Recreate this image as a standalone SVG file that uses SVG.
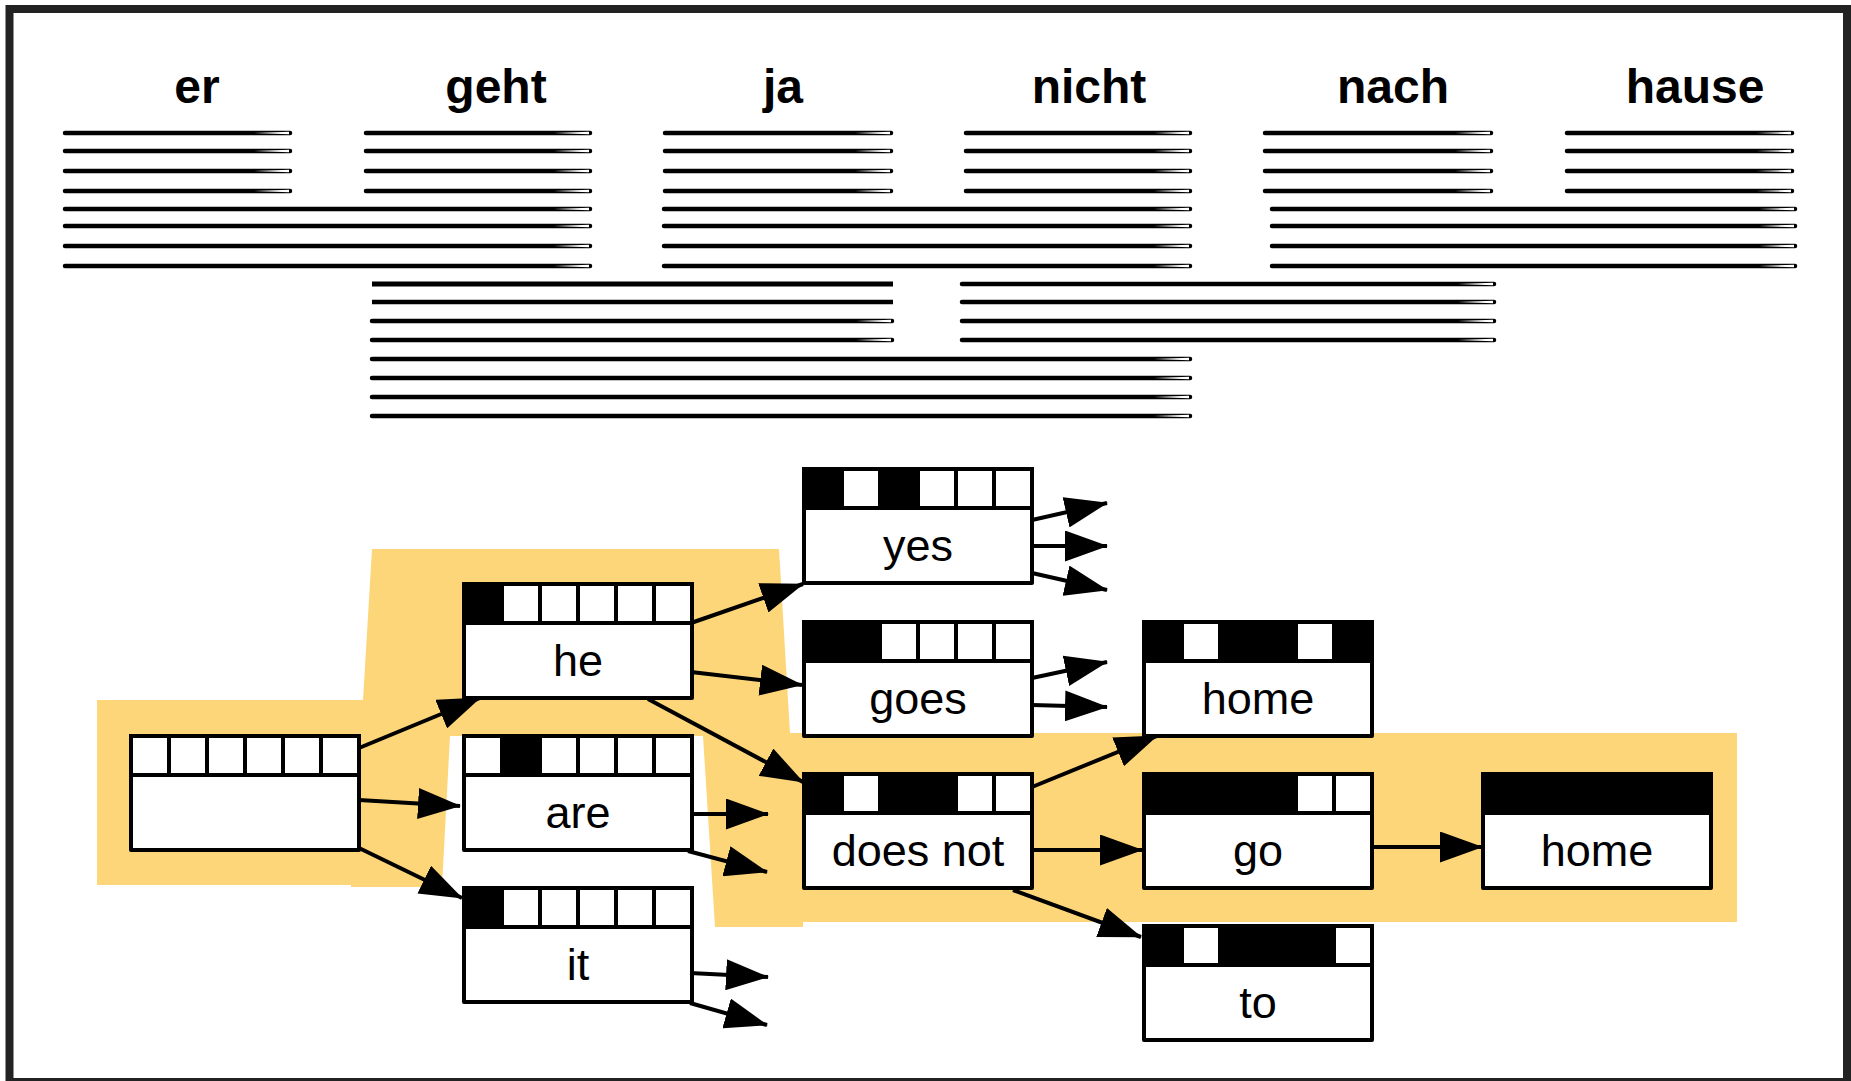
<svg xmlns="http://www.w3.org/2000/svg" width="1851" height="1081" viewBox="0 0 1851 1081">
<style>
.frame{fill:#fff;stroke:#222;stroke-width:8}
.word{font-family:"Liberation Sans",Arial,sans-serif;font-weight:bold;font-size:48px;text-anchor:middle;fill:#000}
.bar{fill:none;stroke:#000;stroke-width:4.5;stroke-linecap:round}
.bartip{marker-end:url(#tip)}
.hl{fill:#fdd679;stroke:none}
.box{fill:#fff;stroke:#000;stroke-width:4;stroke-linejoin:round}
.on{fill:#000;stroke:#000;stroke-width:4}
.off{fill:#fff;stroke:#000;stroke-width:4}
.lbl{font-family:"Liberation Sans",Arial,sans-serif;font-size:45px;text-anchor:middle;fill:#000}
.edge{fill:none;stroke:#000;stroke-width:4;marker-end:url(#arrow)}
</style>
<defs>
<marker id="arrow" markerUnits="userSpaceOnUse" markerWidth="43" markerHeight="31" viewBox="0 0 43 31" refX="42" refY="15.5" orient="auto">
<path d="M0,0 L43,15.5 L0,31 Z" fill="#000"/>
</marker>
<marker id="tip" markerUnits="userSpaceOnUse" markerWidth="40" markerHeight="8" viewBox="-40 -4 40 8" refX="0" refY="0" orient="auto" overflow="visible">
<path d="M-36,0 L-1,-1.2 L-1,1.2 Z" fill="#fff"/>
</marker>
</defs>
<rect class="frame" x="9.5" y="9" width="1837.5" height="1073"/>

<g id="source-words">
<text class="word" x="197" y="103">er</text>
<text class="word" x="496" y="103">geht</text>
<text class="word" x="783" y="103">ja</text>
<text class="word" x="1089" y="103">nicht</text>
<text class="word" x="1393" y="103">nach</text>
<text class="word" x="1695" y="103">hause</text>
</g>

<g id="phrase-bars">
<path class="bar bartip" d="M65,133H290"/><path class="bar bartip" d="M65,151H290"/><path class="bar bartip" d="M65,171H290"/><path class="bar bartip" d="M65,191H290"/>
<path class="bar bartip" d="M366,133H590"/><path class="bar bartip" d="M366,151H590"/><path class="bar bartip" d="M366,171H590"/><path class="bar bartip" d="M366,191H590"/>
<path class="bar bartip" d="M665,133H891"/><path class="bar bartip" d="M665,151H891"/><path class="bar bartip" d="M665,171H891"/><path class="bar bartip" d="M665,191H891"/>
<path class="bar bartip" d="M966,133H1190"/><path class="bar bartip" d="M966,151H1190"/><path class="bar bartip" d="M966,171H1190"/><path class="bar bartip" d="M966,191H1190"/>
<path class="bar bartip" d="M1265,133H1491"/><path class="bar bartip" d="M1265,151H1491"/><path class="bar bartip" d="M1265,171H1491"/><path class="bar bartip" d="M1265,191H1491"/>
<path class="bar bartip" d="M1567,133H1792"/><path class="bar bartip" d="M1567,151H1792"/><path class="bar bartip" d="M1567,171H1792"/><path class="bar bartip" d="M1567,191H1792"/>
<path class="bar bartip" d="M65,209H590"/><path class="bar bartip" d="M65,226H590"/><path class="bar bartip" d="M65,246H590"/><path class="bar bartip" d="M65,266H590"/>
<path class="bar bartip" d="M664,209H1190"/><path class="bar bartip" d="M664,226H1190"/><path class="bar bartip" d="M664,246H1190"/><path class="bar bartip" d="M664,266H1190"/>
<path class="bar bartip" d="M1272,209H1795"/><path class="bar bartip" d="M1272,226H1795"/><path class="bar bartip" d="M1272,246H1795"/><path class="bar bartip" d="M1272,266H1795"/>
<path class="bar" d="M372,284H893" style="stroke-width:5;stroke-linecap:butt"/>
<path class="bar" d="M372,302H893" style="stroke-width:4.5;stroke-linecap:butt"/>
<path class="bar bartip" d="M372,321H892"/><path class="bar bartip" d="M372,340H892"/>
<path class="bar bartip" d="M962,284H1494"/><path class="bar bartip" d="M962,302H1494"/><path class="bar bartip" d="M962,321H1494"/><path class="bar bartip" d="M962,340H1494"/>
<path class="bar bartip" d="M372,359H1190"/><path class="bar bartip" d="M372,378H1190"/><path class="bar bartip" d="M372,397H1190"/><path class="bar bartip" d="M372,416H1190"/>
</g>

<polygon class="hl" points="97,700 363,700 372,549 779,549 790,733 1737,733 1737,922 803,922 803,927 715,927 703,736 450,736 442,887 351,887 351,885 97,885"/>

<g id="node-root">
<rect class="box" x="131" y="736" width="228" height="114"/>
<rect class="off" x="131" y="736" width="38" height="39"/><rect class="off" x="169" y="736" width="38" height="39"/><rect class="off" x="207" y="736" width="38" height="39"/><rect class="off" x="245" y="736" width="38" height="39"/><rect class="off" x="283" y="736" width="38" height="39"/><rect class="off" x="321" y="736" width="38" height="39"/>
</g>

<g id="node-he">
<rect class="box" x="464" y="584" width="228" height="114"/>
<rect class="on" x="464" y="584" width="38" height="39"/><rect class="off" x="502" y="584" width="38" height="39"/><rect class="off" x="540" y="584" width="38" height="39"/><rect class="off" x="578" y="584" width="38" height="39"/><rect class="off" x="616" y="584" width="38" height="39"/><rect class="off" x="654" y="584" width="38" height="39"/>
<text class="lbl" x="578" y="676">he</text>
</g>

<g id="node-are">
<rect class="box" x="464" y="736" width="228" height="114"/>
<rect class="off" x="464" y="736" width="38" height="39"/><rect class="on" x="502" y="736" width="38" height="39"/><rect class="off" x="540" y="736" width="38" height="39"/><rect class="off" x="578" y="736" width="38" height="39"/><rect class="off" x="616" y="736" width="38" height="39"/><rect class="off" x="654" y="736" width="38" height="39"/>
<text class="lbl" x="578" y="828">are</text>
</g>

<g id="node-it">
<rect class="box" x="464" y="888" width="228" height="114"/>
<rect class="on" x="464" y="888" width="38" height="39"/><rect class="off" x="502" y="888" width="38" height="39"/><rect class="off" x="540" y="888" width="38" height="39"/><rect class="off" x="578" y="888" width="38" height="39"/><rect class="off" x="616" y="888" width="38" height="39"/><rect class="off" x="654" y="888" width="38" height="39"/>
<text class="lbl" x="578" y="980">it</text>
</g>

<g id="node-yes">
<rect class="box" x="804" y="469" width="228" height="114"/>
<rect class="on" x="804" y="469" width="38" height="39"/><rect class="off" x="842" y="469" width="38" height="39"/><rect class="on" x="880" y="469" width="38" height="39"/><rect class="off" x="918" y="469" width="38" height="39"/><rect class="off" x="956" y="469" width="38" height="39"/><rect class="off" x="994" y="469" width="38" height="39"/>
<text class="lbl" x="918" y="561">yes</text>
</g>

<g id="node-goes">
<rect class="box" x="804" y="622" width="228" height="114"/>
<rect class="on" x="804" y="622" width="38" height="39"/><rect class="on" x="842" y="622" width="38" height="39"/><rect class="off" x="880" y="622" width="38" height="39"/><rect class="off" x="918" y="622" width="38" height="39"/><rect class="off" x="956" y="622" width="38" height="39"/><rect class="off" x="994" y="622" width="38" height="39"/>
<text class="lbl" x="918" y="714">goes</text>
</g>

<g id="node-doesnot">
<rect class="box" x="804" y="774" width="228" height="114"/>
<rect class="on" x="804" y="774" width="38" height="39"/><rect class="off" x="842" y="774" width="38" height="39"/><rect class="on" x="880" y="774" width="38" height="39"/><rect class="on" x="918" y="774" width="38" height="39"/><rect class="off" x="956" y="774" width="38" height="39"/><rect class="off" x="994" y="774" width="38" height="39"/>
<text class="lbl" x="918" y="866">does not</text>
</g>

<g id="node-home1">
<rect class="box" x="1144" y="622" width="228" height="114"/>
<rect class="on" x="1144" y="622" width="38" height="39"/><rect class="off" x="1182" y="622" width="38" height="39"/><rect class="on" x="1220" y="622" width="38" height="39"/><rect class="on" x="1258" y="622" width="38" height="39"/><rect class="off" x="1296" y="622" width="38" height="39"/><rect class="on" x="1334" y="622" width="38" height="39"/>
<text class="lbl" x="1258" y="714">home</text>
</g>

<g id="node-go">
<rect class="box" x="1144" y="774" width="228" height="114"/>
<rect class="on" x="1144" y="774" width="38" height="39"/><rect class="on" x="1182" y="774" width="38" height="39"/><rect class="on" x="1220" y="774" width="38" height="39"/><rect class="on" x="1258" y="774" width="38" height="39"/><rect class="off" x="1296" y="774" width="38" height="39"/><rect class="off" x="1334" y="774" width="38" height="39"/>
<text class="lbl" x="1258" y="866">go</text>
</g>

<g id="node-to">
<rect class="box" x="1144" y="926" width="228" height="114"/>
<rect class="on" x="1144" y="926" width="38" height="39"/><rect class="off" x="1182" y="926" width="38" height="39"/><rect class="on" x="1220" y="926" width="38" height="39"/><rect class="on" x="1258" y="926" width="38" height="39"/><rect class="on" x="1296" y="926" width="38" height="39"/><rect class="off" x="1334" y="926" width="38" height="39"/>
<text class="lbl" x="1258" y="1018">to</text>
</g>

<g id="node-home2">
<rect class="box" x="1483" y="774" width="228" height="114"/>
<rect class="on" x="1483" y="774" width="38" height="39"/><rect class="on" x="1521" y="774" width="38" height="39"/><rect class="on" x="1559" y="774" width="38" height="39"/><rect class="on" x="1597" y="774" width="38" height="39"/><rect class="on" x="1635" y="774" width="38" height="39"/><rect class="on" x="1673" y="774" width="38" height="39"/>
<text class="lbl" x="1597" y="866">home</text>
</g>

<g id="connectors">
<path class="edge" d="M359,748 L480,698"/>
<path class="edge" d="M359,800 L460,806"/>
<path class="edge" d="M359,848 L462,898"/>
<path class="edge" d="M691,623 L803,584"/>
<path class="edge" d="M691,672 L802,685"/>
<path class="edge" d="M648,699 L803,782"/>
<path class="edge" d="M692,814 L768,814"/>
<path class="edge" d="M688,851 L767,872"/>
<path class="edge" d="M690,973 L768,977"/>
<path class="edge" d="M690,1003 L767,1025"/>
<path class="edge" d="M1032,520 L1107,503"/>
<path class="edge" d="M1032,546 L1107,546"/>
<path class="edge" d="M1032,573 L1107,590"/>
<path class="edge" d="M1032,678 L1107,662"/>
<path class="edge" d="M1032,705 L1107,707"/>
<path class="edge" d="M1032,787 L1157,736"/>
<path class="edge" d="M1032,850 L1142,850"/>
<path class="edge" d="M1013,890 L1141,937"/>
<path class="edge" d="M1372,847 L1482,847"/>
</g>
</svg>
